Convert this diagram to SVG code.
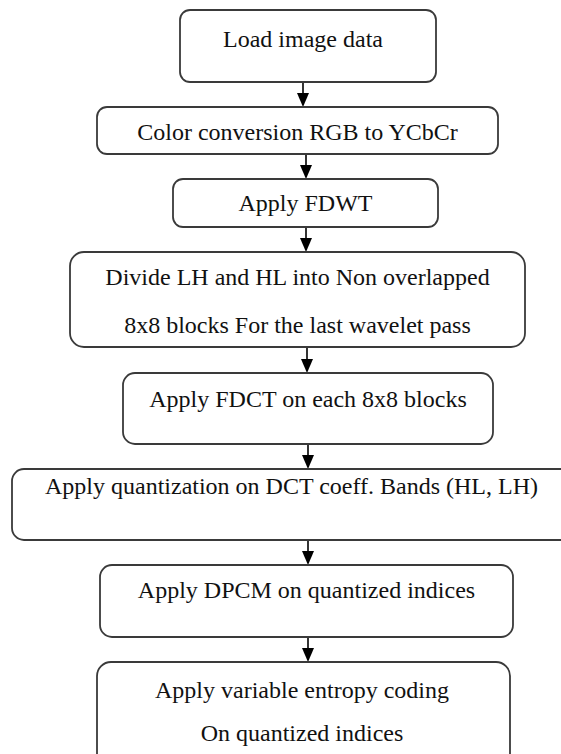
<svg xmlns="http://www.w3.org/2000/svg" width="561" height="754" viewBox="0 0 561 754">
<style>
.box{fill:#fff;stroke:#3a3a3a;stroke-width:1.8}
.t{font-family:"Liberation Serif","Times New Roman",serif;font-size:24px;fill:#111;text-anchor:middle}
.c{stroke:#000;stroke-width:1.6;fill:none}
</style>
<rect width="561" height="754" fill="#fff"/>
<g id="connectors">
<path class="c" d="M303,82 V95"/><path d="M297,93 H309 L303,107 Z"/>
<path class="c" d="M306,154 V167"/><path d="M300,165 H312 L306,179 Z"/>
<path class="c" d="M306,227 V240"/><path d="M300,238 H312 L306,252 Z"/>
<path class="c" d="M307,347 V361"/><path d="M301,359 H313 L307,373 Z"/>
<path class="c" d="M308,444 V457"/><path d="M302,455 H314 L308,469 Z"/>
<path class="c" d="M308,540 V553"/><path d="M302,551 H314 L308,565 Z"/>
<path class="c" d="M308,637 V650"/><path d="M302,648 H314 L308,662 Z"/>
</g>
<g id="n1"><rect class="box" x="180" y="10" width="256" height="72" rx="10"/><text class="t" x="303" y="47">Load image data</text></g>
<g id="n2"><rect class="box" x="97" y="107" width="401" height="47" rx="10"/><text class="t" x="297.5" y="140">Color conversion RGB to YCbCr</text></g>
<g id="n3"><rect class="box" x="173" y="179" width="265" height="48" rx="10"/><text class="t" x="305.5" y="211">Apply FDWT</text></g>
<g id="n4"><rect class="box" x="70" y="252" width="455" height="95" rx="14"/><text class="t" x="297.5" y="285">Divide LH and HL into Non overlapped</text><text class="t" x="297.5" y="333">8x8 blocks For the last wavelet pass</text></g>
<g id="n5"><rect class="box" x="123" y="373" width="370" height="71" rx="12"/><text class="t" x="308" y="407">Apply FDCT on each 8x8 blocks</text></g>
<g id="n6"><rect class="box" x="12" y="469" width="570" height="71" rx="12"/><text class="t" x="291.5" y="494">Apply quantization on DCT coeff.  Bands (HL, LH)</text></g>
<g id="n7"><rect class="box" x="100" y="565" width="413" height="72" rx="12"/><text class="t" x="306.5" y="598">Apply DPCM on quantized indices</text></g>
<g id="n8"><rect class="box" x="97" y="662" width="413" height="110" rx="14"/><text class="t" x="302" y="698">Apply variable entropy coding</text><text class="t" x="302" y="741">On quantized indices</text></g>
</svg>
